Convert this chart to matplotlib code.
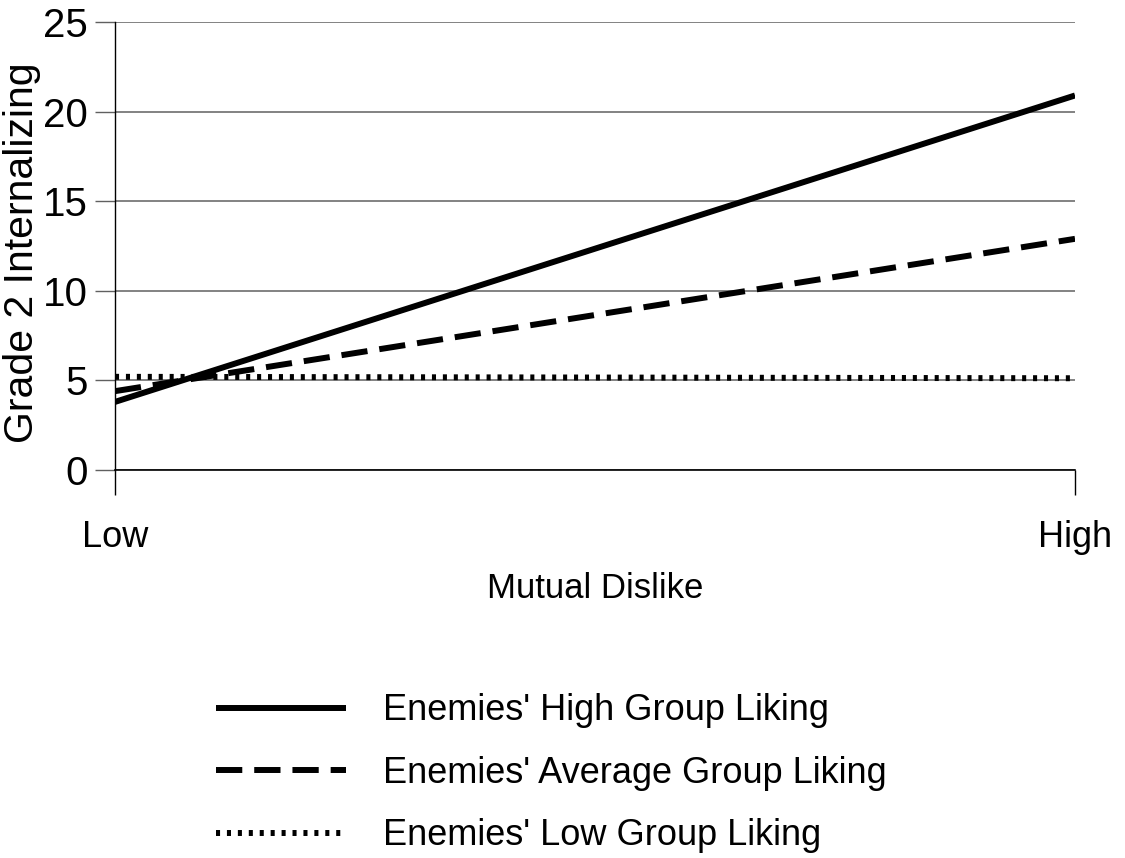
import matplotlib
matplotlib.use("Agg")
import matplotlib.pyplot as plt

# Simple-slopes data: Grade 2 internalizing at low / high mutual dislike
x_levels = ["Low", "High"]
high_liking = [3.8, 20.9]
average_liking = [4.4, 12.9]
low_liking = [5.2, 5.12]
series_labels = [
    "Enemies' High Group Liking",
    "Enemies' Average Group Liking",
    "Enemies' Low Group Liking",
]
y_ticks = [0, 5, 10, 15, 20, 25]

plt.rcParams["font.family"] = ["Liberation Sans", "DejaVu Sans"]

fig = plt.figure(figsize=(11.25, 8.58), dpi=100)
ax = fig.add_axes([115 / 1125, 1 - 470 / 858, 960 / 1125, 448 / 858])

xs = range(len(x_levels))
lw = 4.3
h1, = ax.plot(xs, high_liking, color="black", lw=lw, solid_capstyle="butt",
              label=series_labels[0], zorder=3)
h2, = ax.plot(xs, average_liking, color="black", lw=lw, dashes=(4.4, 2.0),
              dash_capstyle="butt", label=series_labels[1], zorder=3)
h3, = ax.plot(xs, low_liking, color="black", lw=lw, dashes=(0.68, 1.15),
              dash_capstyle="butt", label=series_labels[2], zorder=3)

ax.set_xlim(0, len(x_levels) - 1)
ax.set_ylim(0, 25)
ax.set_xticks(list(xs))
ax.set_xticklabels(x_levels, fontsize=26)
ax.set_yticks(y_ticks)
ax.set_yticklabels([str(v) for v in y_ticks], fontsize=29)

ax.yaxis.grid(True, color="#606060", lw=1.1)
ax.set_axisbelow(True)
for side in ("top", "right"):
    ax.spines[side].set_visible(False)
ax.spines["left"].set_color("black")
ax.spines["bottom"].set_color("black")
ax.spines["left"].set_linewidth(1.0)
ax.spines["bottom"].set_linewidth(1.2)

ax.tick_params(axis="y", direction="out", length=14.4, width=1.0,
               color="#606060", pad=5)
ax.tick_params(axis="x", direction="out", length=18, width=1.0,
               color="black", pad=18)

ax.set_xlabel("Mutual Dislike", fontsize=25, labelpad=12)
ax.set_ylabel("Grade 2 Internalizing", fontsize=29.5)
ax.yaxis.set_label_coords(-0.077, 0.485)

leg = fig.legend(handles=[h1, h2, h3], labels=series_labels,
                 loc="upper left", bbox_to_anchor=(183 / 1125, 1 - 661 / 858),
                 frameon=False, fontsize=26, handlelength=3.6,
                 handletextpad=1.05, labelspacing=0.76)

fig.savefig("out.png", dpi=100)
